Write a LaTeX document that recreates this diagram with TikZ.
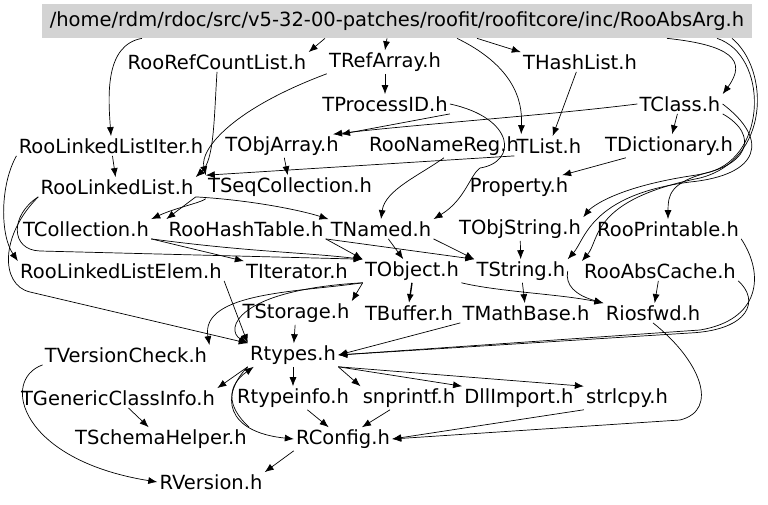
\documentclass[tikz,border=0pt]{standalone}
\usepackage{fontspec}
\setmainfont{DejaVu Sans}
\usetikzlibrary{arrows.meta}
\definecolor{rootgray}{HTML}{D3D3D3}

\begin{document}
\begin{tikzpicture}[x=1pt,y=-1pt,
		%Option for nice arrows%
		>={Latex[length=9pt,width=7pt]},%
		line width=0.7pt,%
		hfile/.style={inner sep=2pt, font=\fontsize{19.5}{22}\selectfont},%
		rootfile/.style={hfile, fill=rootgray, minimum width=710pt, minimum height=34pt}%
		]
	\useasboundingbox (0,0) rectangle (768,505);
	%% the header and its includes, row by row
	\node[rootfile] (root) at (397,21) {/home/rdm/rdoc/src/v5-32-00-patches/roofit/roofitcore/inc/RooAbsArg.h};
	\node[hfile] (rcl) at (217,62) {RooRefCountList.h};
	\node[hfile] (tra) at (385,62) {TRefArray.h};
	\node[hfile] (thl) at (580,62) {THashList.h};
	\node[hfile] (tpid) at (385,104) {TProcessID.h};
	\node[hfile] (tcls) at (680,104) {TClass.h};
	\node[hfile] (lli) at (111,146) {RooLinkedListIter.h};
	\node[hfile] (toa) at (282,146) {TObjArray.h};
	\node[hfile] (nreg) at (444,146) {RooNameReg.h};
	\node[hfile] (tlist) at (549,146) {TList.h};
	\node[hfile] (tdict) at (669,146) {TDictionary.h};
	\node[hfile] (ll) at (117,187) {RooLinkedList.h};
	\node[hfile] (tseq) at (290,187) {TSeqCollection.h};
	\node[hfile] (prop) at (519,187) {Property.h};
	\node[hfile] (tcoll) at (86,229) {TCollection.h};
	\node[hfile] (rht) at (246,229) {RooHashTable.h};
	\node[hfile] (tnam) at (381,229) {TNamed.h};
	\node[hfile] (tostr) at (520,229) {TObjString.h};
	\node[hfile] (rprt) at (668,229) {RooPrintable.h};
	\node[hfile] (lle) at (121,271) {RooLinkedListElem.h};
	\node[hfile] (titer) at (297,271) {TIterator.h};
	\node[hfile] (tobj) at (412,271) {TObject.h};
	\node[hfile] (tstr) at (521,271) {TString.h};
	\node[hfile] (rac) at (660,271) {RooAbsCache.h};
	\node[hfile] (tsto) at (296,313) {TStorage.h};
	\node[hfile] (tbuf) at (409,313) {TBuffer.h};
	\node[hfile] (tmb) at (526,313) {TMathBase.h};
	\node[hfile] (rios) at (653,313) {Riosfwd.h};
	\node[hfile] (tvc) at (126,355) {TVersionCheck.h};
	\node[hfile] (rtyp) at (293,355) {Rtypes.h};
	\node[hfile] (tgci) at (118,398) {TGenericClassInfo.h};
	\node[hfile] (rti) at (293,398) {Rtypeinfo.h};
	\node[hfile] (snp) at (409,398) {snprintf.h};
	\node[hfile] (dll) at (519,398) {DllImport.h};
	\node[hfile] (slc) at (627,398) {strlcpy.h};
	\node[hfile] (tsh) at (161,439) {TSchemaHelper.h};
	\node[hfile] (rcfg) at (343,439) {RConfig.h};
	\node[hfile] (rver) at (211,482) {RVersion.h};

	%% edges out of the header
	\draw[->] ([xshift=-72pt]root.south) -- (rcl.north east);
	\draw[->] ([xshift=-10pt]root.south) -- (tra.north);
	\draw[->] ([xshift=80pt]root.south) -- (thl.north west);
	\draw[->] ([xshift=-255pt]root.south) .. controls (105,45) and (108,95) .. (lli.north);
	\draw[->] ([xshift=60pt]root.south) .. controls (522,70) and (522,110) .. (nreg.north east);
	\draw[->] ([xshift=270pt]root.south) .. controls (730,45) and (748,60) .. (tcls.north east);
	\draw[->] ([xshift=320pt]root.south) .. controls (768,55) and (768,155) .. (710,172) .. controls (670,182) and (668,195) .. (rprt.north);
	\draw[->] ([xshift=335pt]root.south) .. controls (770,70) and (770,160) .. (700,178) .. controls (590,200) and (600,240) .. (rac.north west);
	%% second and third rows
	\draw[->] (rcl.south) .. controls (214,120) and (214,160) .. (ll.north east);
	\draw[->] (tra.south west) .. controls (230,110) and (200,150) .. (tseq.north west);
	\draw[->] (tra) -- (tpid);
	\draw[->] (thl) -- (tlist);
	\draw[->] (tpid.south east) -- (toa.north east);
	\draw[->] (tpid.east) .. controls (515,118) and (518,162) .. (480,168) .. controls (470,175) and (465,200) .. (tnam.north east);
	\draw[->] (tcls.west) .. controls (540,116) and (420,124) .. ([xshift=-8pt]toa.north east);
	\draw[->] (tcls) -- (tdict);
	\draw[->] (tcls.south east) .. controls (760,135) and (750,168) .. (690,176) .. controls (600,190) and (585,215) .. (tostr.north east);
	\draw[->] (tcls.east) .. controls (770,140) and (760,175) .. (690,182) .. controls (590,195) and (585,240) .. (tstr.north east);
	\draw[->] (lli) -- (ll);
	\draw[->] (lli.south west) .. controls (0,185) and (0,235) .. (lle.north west);
	\draw[->] (toa) -- (tseq);
	\draw[->] (tlist.south west) -- (tseq.north west);
	\draw[->] (nreg.south) .. controls (420,175) and (385,190) .. (tnam.north);
	\draw[->] (tdict) -- (prop);
	%% collections and TObject
	\draw[->] (ll.south east) -- (rht.north west);
	\draw[->] (ll.south east) .. controls (250,200) and (300,210) .. (tnam.north west);
	\draw[->] (tseq.south west) .. controls (200,203) and (175,208) .. (tcoll.north east);
	\draw[->] (ll.south west) .. controls (10,215) and (10,250) .. (40,251) -- (tobj.north west);
	\draw[->] (ll.south west) .. controls (0,235) and (0,285) .. (30,292) -- (rtyp.north west);
	\draw[->] (tcoll.south east) -- (titer.north west);
	\draw[->] (tcoll.south east) .. controls (250,252) and (300,252) .. (tobj.north west);
	\draw[->] (rht.south east) -- (tstr.north west);
	\draw[->] (rht.south east) -- (tobj.north west);
	\draw[->] (tnam) -- (tobj);
	\draw[->] (tnam.south east) -- (tstr.north west);
	\draw[->] (tostr) -- (tstr);
	\draw[->] (lle.south east) -- (rtyp.north west);
	%% TObject, TString and the low level headers
	\draw[->] (tobj.south west) -- (tsto.north east);
	\draw[->] (tobj.south west) .. controls (300,292) and (200,292) .. (tvc.north east);
	\draw[->] (tobj.south west) .. controls (235,290) and (225,330) .. (rtyp.north west);
	\draw[->, line width=1.4pt] (tobj.south) -- (tbuf.north);
	\draw[->] (tobj.south east) .. controls (500,292) and (560,294) .. (rios.north west);
	\draw[->] (tstr) -- (tmb);
	\draw[->] (tstr.east) .. controls (565,285) and (575,295) .. (rios.north west);
	\draw[->] (rac) -- (rios);
	\draw[->] (rprt.south east) .. controls (765,275) and (760,320) .. (700,330) -- (rtyp.east);
	\draw[->] (rac.south east) .. controls (760,300) and (750,330) .. (690,333) -- (rtyp.east);
	\draw[->] (tsto) -- (rtyp);
	\draw[->] (tmb.south west) -- (rtyp.east);
	\draw[->] (rios.south) .. controls (700,360) and (720,410) .. (680,420) -- (rcfg.east);
	%% Rtypes.h and below
	\draw[->] (tvc.south west) .. controls (0,380) and (20,460) .. (rver.west);
	\draw[->] (rtyp.south west) -- (tgci.north east);
	\draw[->] (rtyp) -- (rti);
	\draw[->] (rtyp.south east) -- (snp.north west);
	\draw[->] (rtyp.south east) -- (dll.north west);
	\draw[->] (rtyp.south east) -- (slc.north west);
	\draw[->] (rtyp.south west) .. controls (220,395) and (225,432) .. (rcfg.west);
	\draw[->] (tsh.north east) .. controls (225,405) and (228,385) .. ([xshift=6pt]rtyp.south west);
	\draw[->] (tgci) -- (tsh);
	\draw[->] (rti) -- (rcfg);
	\draw[->] (snp) -- (rcfg);
	\draw[->] (slc.south west) -- (rcfg.east);
	\draw[->] (rcfg.south west) -- (rver.north east);
\end{tikzpicture}
\end{document}
